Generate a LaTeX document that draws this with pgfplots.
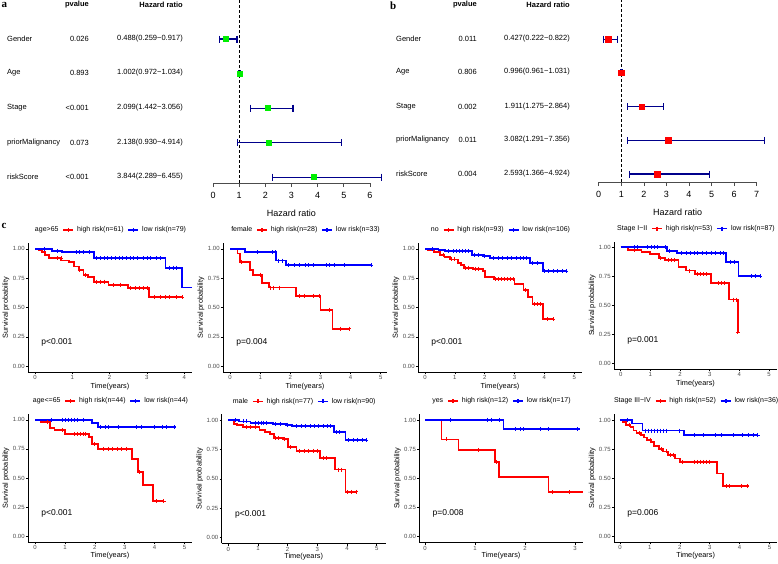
\documentclass[border=0pt]{standalone}
\usepackage{pgfplots}
\pgfplotsset{compat=1.18}
\usepackage{fontspec}
\setmainfont{Liberation Sans}
\newfontfamily\serifbf{Liberation Serif}
\pgfplotsset{
 /pgf/number format/assume math mode=true,
 km/.style={scale only axis, width=164pt, ymin=-0.05, ymax=1.05,
  axis x line*=bottom, axis y line*=left,
  axis line style={-, line width=0.6pt, black},
  tick align=outside, major tick length=2.2pt, tick style={black, line width=0.6pt},
  ytick={0,0.25,0.5,0.75,1},
  yticklabel style={/pgf/number format/.cd, fixed, fixed zerofill, precision=2},
  tick label style={font=\fontsize{6}{7}\selectfont, inner sep=1pt, text=black!70},
  xlabel={Time(years)}, ylabel={Survival probability},
  label style={font=\fontsize{7.3}{8}\selectfont},
  xlabel style={at={(axis description cs:0.5,-0.11)}, anchor=center},
  ylabel style={at={(axis description cs:-0.134,0.5)}, anchor=center},
  clip=false,
  legend style={at={(0.5,1)}, anchor=center, yshift=13pt, draw=none, fill=none,
   legend columns=-1, font=\fontsize{7}{8}\selectfont, inner sep=0pt,
   /tikz/every even column/.append style={column sep=2pt},
   /tikz/every odd column/.append style={column sep=1pt}},
  legend image code/.code={\draw[mark repeat=2,mark phase=2,##1] plot coordinates {(0pt,0pt)(5pt,0pt)(10pt,0pt)};},
 },
 kmb/.style={xlabel style={at={(axis description cs:0.5,-0.105)}}},
 kr/.style={color=red, line width=1.8pt, const plot, mark=none, forget plot},
 kb/.style={color=blue, line width=1.8pt, const plot, mark=none, forget plot},
 cr/.style={color=red, only marks, mark=+, mark size=2pt, line width=0.8pt, forget plot},
 cb/.style={color=blue, only marks, mark=+, mark size=2pt, line width=0.8pt, forget plot},
 fp/.style={scale only axis, axis x line*=bottom, hide y axis, axis line style={-, line width=0.7pt, black!70},
  tick align=outside, major tick length=4pt, tick style={black!70, line width=0.7pt},
  tick label style={font=\fontsize{9}{10}\selectfont}, xticklabel style={yshift=-2pt}, xlabel={Hazard ratio},
  label style={font=\fontsize{9}{10}\selectfont}, xlabel style={yshift=-4pt}, clip=false},
 ci/.style={color={rgb,255:red,0;green,0;blue,139}, line width=1.1pt, mark=|, mark size=3.5pt, forget plot},
}
\newcommand{\leg}[3]{\addlegendimage{empty legend}\addlegendentry{#1}
 \addlegendimage{color=red,line width=1.6pt,mark=+,mark size=2pt}\addlegendentry{high risk(n=#2)}
 \addlegendimage{color=blue,line width=1.6pt,mark=+,mark size=2pt}\addlegendentry{low risk(n=#3)}}
\newcommand{\pv}[1]{\node[anchor=west, font=\fontsize{8.5}{10}\selectfont] at (rel axis cs:0.06,0.227) {#1};}
\begin{document}
\begin{tikzpicture}
\useasboundingbox (0,0) rectangle (778pt,-563pt);
\fill[white] (0,0) rectangle (778pt,-563pt);
% panel letters
\node[anchor=north west, inner sep=0pt, font=\serifbf\bfseries\fontsize{11}{12}\selectfont] at (1.5pt,-2pt) {a};
\node[anchor=north west, inner sep=0pt, font=\serifbf\bfseries\fontsize{11}{12}\selectfont] at (390pt,-2pt) {b};
\node[anchor=north west, inner sep=0pt, font=\serifbf\bfseries\fontsize{11}{12}\selectfont] at (1.5pt,-223pt) {c};
% ---------- forest a text
\begin{scope}[every node/.style={font=\fontsize{7.5}{9}\selectfont, inner sep=0pt}]
\node[anchor=east, font=\bfseries\fontsize{7.5}{9}\selectfont] at (89pt,-5pt) {pvalue};
\node[anchor=east, font=\bfseries\fontsize{7.5}{9}\selectfont] at (183pt,-5pt) {Hazard ratio};
\node[anchor=west] at (7pt,-39pt) {Gender};
\node[anchor=west] at (7pt,-73pt) {Age};
\node[anchor=west] at (7pt,-108pt) {Stage};
\node[anchor=west] at (7pt,-143pt) {priorMalignancy};
\node[anchor=west] at (7pt,-177pt) {riskScore};
\node[anchor=east] at (89pt,-39pt) {0.026};
\node[anchor=east] at (89pt,-73pt) {0.893};
\node[anchor=east] at (89pt,-108pt) {<0.001};
\node[anchor=east] at (89pt,-143pt) {0.073};
\node[anchor=east] at (89pt,-177pt) {<0.001};
\node[anchor=east] at (183pt,-39pt) {0.488(0.259−0.917)};
\node[anchor=east] at (183pt,-73pt) {1.002(0.972−1.034)};
\node[anchor=east] at (183pt,-108pt) {2.099(1.442−3.056)};
\node[anchor=east] at (183pt,-143pt) {2.138(0.930−4.914)};
\node[anchor=east] at (183pt,-177pt) {3.844(2.289−6.455)};
% forest b text
\node[anchor=east, font=\bfseries\fontsize{7.5}{9}\selectfont] at (477pt,-5pt) {pvalue};
\node[anchor=east, font=\bfseries\fontsize{7.5}{9}\selectfont] at (570pt,-5pt) {Hazard ratio};
\node[anchor=west] at (396pt,-39pt) {Gender};
\node[anchor=west] at (396pt,-72pt) {Age};
\node[anchor=west] at (396pt,-107pt) {Stage};
\node[anchor=west] at (396pt,-140pt) {priorMalignancy};
\node[anchor=west] at (396pt,-174pt) {riskScore};
\node[anchor=east] at (477pt,-39pt) {0.011};
\node[anchor=east] at (477pt,-72pt) {0.806};
\node[anchor=east] at (477pt,-107pt) {0.002};
\node[anchor=east] at (477pt,-140pt) {0.011};
\node[anchor=east] at (477pt,-174pt) {0.004};
\node[anchor=east] at (570pt,-39pt) {0.427(0.222−0.822)};
\node[anchor=east] at (570pt,-72pt) {0.996(0.961−1.031)};
\node[anchor=east] at (570pt,-107pt) {1.911(1.275−2.864)};
\node[anchor=east] at (570pt,-140pt) {3.082(1.291−7.356)};
\node[anchor=east] at (570pt,-174pt) {2.593(1.366−4.924)};
\end{scope}
% ---------- forest a
\begin{axis}[fp, at={(213pt,0pt)}, anchor=north west, width=157pt, height=183pt,
 xmin=0, xmax=6, ymin=0.83, ymax=6.13, xtick={0,1,2,3,4,5,6}]
\addplot[black, dashed, line width=0.8pt, dash pattern=on 3pt off 2pt, forget plot] coordinates {(1,0.83)(1,6.13)};
\addplot[ci] coordinates {(0.259,5)(0.917,5)};
\addplot[ci] coordinates {(0.972,4)(1.034,4)};
\addplot[ci] coordinates {(1.442,3)(3.056,3)};
\addplot[ci] coordinates {(0.930,2)(4.914,2)};
\addplot[ci] coordinates {(2.289,1)(6.455,1)};
\addplot[only marks, mark=square*, mark size=2.5pt, color={rgb,255:red,0;green,238;blue,0}]
 coordinates {(0.488,5)(1.002,4)(2.099,3)(2.138,2)(3.844,1)};
\end{axis}
% ---------- forest b
\begin{axis}[fp, at={(598.7pt,0pt)}, anchor=north west, width=158pt, height=182pt,
 xmin=0, xmax=7, ymin=0.763, ymax=6.16, xtick={0,1,2,3,4,5,6,7}]
\addplot[black, dashed, line width=0.8pt, dash pattern=on 3pt off 2pt, forget plot] coordinates {(1,0.763)(1,6.16)};
\addplot[ci] coordinates {(0.222,5)(0.822,5)};
\addplot[ci] coordinates {(0.961,4)(1.031,4)};
\addplot[ci] coordinates {(1.275,3)(2.864,3)};
\addplot[ci] coordinates {(1.291,2)(7.356,2)};
\addplot[ci] coordinates {(1.366,1)(4.924,1)};
\addplot[only marks, mark=square*, mark size=2.8pt, color=red]
 coordinates {(0.427,5)(0.996,4)(1.911,3)(3.082,2)(2.593,1)};
\end{axis}
% ---------- P1 age>65
\begin{axis}[km, at={(28pt,-243pt)}, anchor=north west, height=129pt, xmin=-0.19, xmax=4.21, xtick={0,1,2,3,4}]
\leg{age>65}{61}{79}
\addplot[kr] coordinates {(0,1)(0.09,0.99)(0.18,0.97)(0.27,0.95)(0.38,0.92)(0.7,0.90)(0.9,0.887)(1.05,0.85)(1.17,0.82)(1.3,0.78)(1.43,0.76)(1.57,0.72)(1.97,0.695)(2.5,0.665)(3.06,0.59)(3.98,0.59)};
\addplot[cr] coordinates {(0.6,0.92)(0.7,0.92)(1.2,0.82)(1.35,0.78)(1.65,0.72)(1.75,0.72)(1.85,0.72)(2.1,0.695)(2.3,0.695)(2.55,0.665)(2.7,0.665)(2.8,0.665)(2.9,0.665)(3.0,0.665)(3.2,0.59)(3.35,0.59)(3.5,0.59)(3.6,0.59)(3.8,0.59)(3.95,0.59)};
\addplot[kb] coordinates {(0,1)(0.45,0.98)(0.72,0.97)(1.57,0.92)(3.5,0.84)(3.94,0.67)(4.2,0.67)};
\addplot[cb] coordinates {(0.25,1)(0.6,0.98)(1.1,0.97)(1.2,0.97)(1.3,0.97)(1.45,0.97)(1.65,0.92)(1.75,0.92)(1.85,0.92)(1.95,0.92)(2.05,0.92)(2.15,0.92)(2.25,0.92)(2.35,0.92)(2.45,0.92)(2.55,0.92)(2.65,0.92)(2.75,0.92)(2.9,0.92)(3.0,0.92)(3.1,0.92)(3.25,0.92)(3.35,0.92)(3.6,0.84)(3.7,0.84)(3.8,0.84)};
\pv{p<0.001}
\end{axis}
% ---------- P2 female
\begin{axis}[km, at={(223pt,-243pt)}, anchor=north west, height=129pt, xmin=-0.233, xmax=5.206, xtick={0,1,2,3,4,5}]
\leg{female}{28}{33}
\addplot[kr] coordinates {(0,1)(0.25,0.96)(0.33,0.89)(0.66,0.82)(0.77,0.78)(1.05,0.71)(1.3,0.67)(2.18,0.60)(3.0,0.48)(3.4,0.32)(3.95,0.32)};
\addplot[cr] coordinates {(0.38,0.89)(1.0,0.78)(1.35,0.67)(1.45,0.67)(1.65,0.67)(2.3,0.60)(2.45,0.60)(2.75,0.60)(2.95,0.60)(3.3,0.48)(3.65,0.32)(3.95,0.32)};
\addplot[kb] coordinates {(0,1)(0.5,0.97)(1.53,0.90)(1.85,0.86)(4.68,0.86)};
\addplot[cb] coordinates {(0.9,0.97)(1.4,0.97)(1.5,0.97)(1.6,0.90)(1.75,0.90)(1.95,0.86)(2.15,0.86)(2.3,0.86)(2.5,0.86)(2.6,0.86)(2.75,0.86)(3.2,0.86)(3.3,0.86)(3.45,0.86)(3.8,0.86)(4.68,0.86)};
\pv{p=0.004}
\end{axis}
% ---------- P3 no
\begin{axis}[km, at={(418pt,-243pt)}, anchor=north west, height=129pt, xmin=-0.235, xmax=5.26, xtick={0,1,2,3,4,5}]
\leg{no}{93}{106}
\addplot[kr] coordinates {(0,1)(0.1,0.99)(0.3,0.97)(0.5,0.95)(0.65,0.93)(0.85,0.91)(1.1,0.88)(1.2,0.86)(1.3,0.84)(1.6,0.83)(1.95,0.81)(2.0,0.76)(2.3,0.74)(3.0,0.70)(3.3,0.65)(3.45,0.59)(3.6,0.53)(3.95,0.40)(4.3,0.40)};
\addplot[cr] coordinates {(0.6,0.95)(0.9,0.91)(1.0,0.91)(1.35,0.84)(1.45,0.84)(1.7,0.83)(1.8,0.83)(2.35,0.74)(2.45,0.74)(2.55,0.74)(2.65,0.74)(2.75,0.74)(2.85,0.74)(2.95,0.74)(3.35,0.65)(3.65,0.53)(3.75,0.53)(3.85,0.53)(4.1,0.40)(4.3,0.40)};
\addplot[kb] coordinates {(0,1)(0.45,0.99)(0.67,0.98)(1.57,0.95)(1.95,0.94)(2.18,0.92)(3.52,0.88)(3.95,0.81)(4.73,0.81)};
\addplot[cb] coordinates {(0.25,1.0)(0.8,0.98)(0.95,0.98)(1.05,0.98)(1.15,0.98)(1.25,0.98)(1.35,0.98)(1.45,0.98)(1.65,0.95)(1.8,0.95)(2.0,0.94)(2.3,0.92)(2.45,0.92)(2.6,0.92)(2.75,0.92)(2.9,0.92)(3.05,0.92)(3.2,0.92)(3.3,0.92)(3.4,0.92)(3.6,0.88)(3.75,0.88)(4.0,0.81)(4.15,0.81)(4.3,0.81)(4.45,0.81)(4.6,0.81)(4.73,0.81)};
\pv{p<0.001}
\end{axis}
% ---------- P4 Stage I-II
\begin{axis}[km, at={(614pt,-241.5pt)}, anchor=north west, height=127.7pt, width=163pt, xmin=-0.226, xmax=5.27, xtick={0,1,2,3,4,5}]
\leg{Stage I−II}{53}{87}
\addplot[kr] coordinates {(0,1)(0.25,0.98)(0.7,0.96)(1.0,0.94)(1.3,0.91)(1.5,0.89)(1.95,0.83)(2.2,0.80)(2.5,0.77)(3.05,0.69)(3.65,0.55)(3.95,0.27)};
\addplot[cr] coordinates {(0.45,0.98)(1.35,0.91)(1.6,0.89)(1.7,0.89)(1.8,0.89)(2.3,0.80)(2.6,0.77)(2.7,0.77)(2.8,0.77)(2.9,0.77)(3.3,0.69)(3.4,0.69)(3.5,0.69)(3.8,0.55)(3.9,0.55)(3.95,0.27)};
\addplot[kb] coordinates {(0,1)(1.55,0.97)(1.9,0.95)(3.55,0.875)(3.97,0.75)(4.7,0.75)};
\addplot[cb] coordinates {(0.45,1)(0.55,1)(0.9,1)(1.05,1)(1.15,1)(1.25,1)(1.5,1)(1.65,0.97)(2.05,0.95)(2.2,0.95)(2.35,0.95)(2.5,0.95)(2.6,0.95)(2.75,0.95)(2.9,0.95)(3.05,0.95)(3.2,0.95)(3.35,0.95)(3.45,0.95)(3.7,0.875)(3.85,0.875)(4.4,0.75)(4.55,0.75)(4.7,0.75)};
\pv{p=0.001}
\end{axis}
% ---------- P5 age<=65
\begin{axis}[km, kmb, at={(28pt,-414pt)}, anchor=north west, height=128pt, xmin=-0.237, xmax=5.25, xtick={0,1,2,3,4,5}]
\leg{age<=65}{44}{44}
\addplot[kr] coordinates {(0,1)(0.2,0.98)(0.5,0.93)(0.65,0.91)(1.0,0.88)(1.8,0.85)(1.9,0.79)(2.1,0.75)(3.25,0.66)(3.45,0.55)(3.6,0.44)(3.95,0.30)(4.3,0.30)};
\addplot[cr] coordinates {(0.4,0.98)(0.9,0.91)(1.3,0.88)(1.4,0.88)(1.5,0.88)(1.6,0.88)(1.7,0.88)(2.0,0.79)(2.3,0.75)(2.45,0.75)(2.6,0.75)(2.75,0.75)(2.9,0.75)(3.05,0.75)(3.5,0.55)(4.05,0.30)(4.3,0.30)};
\addplot[kb] coordinates {(0,1)(1.9,0.97)(2.1,0.94)(4.7,0.94)};
\addplot[cb] coordinates {(0.55,1)(0.9,1)(1.0,1)(1.1,1)(1.2,1)(1.3,1)(1.4,1)(1.6,1)(2.2,0.94)(2.35,0.94)(2.45,0.94)(2.8,0.94)(3.4,0.94)(3.55,0.94)(4.0,0.94)(4.25,0.94)(4.4,0.94)(4.65,0.94)};
\pv{p<0.001}
\end{axis}
% ---------- P6 male
\begin{axis}[km, kmb, at={(221.7pt,-414.4pt)}, anchor=north west, height=129pt, xmin=-0.22, xmax=5.3, xtick={0,1,2,3,4,5}]
\leg{male}{77}{90}
\addplot[kr] coordinates {(0,1)(0.2,0.97)(0.3,0.96)(0.5,0.94)(1.05,0.92)(1.25,0.90)(1.4,0.88)(1.55,0.85)(1.85,0.84)(2.0,0.77)(2.3,0.74)(3.1,0.68)(3.6,0.58)(3.95,0.39)(4.3,0.39)};
\addplot[cr] coordinates {(0.6,0.94)(0.75,0.94)(0.9,0.94)(1.6,0.85)(1.7,0.85)(1.9,0.84)(2.1,0.77)(2.4,0.74)(2.55,0.74)(2.7,0.74)(2.85,0.74)(3.0,0.74)(3.2,0.68)(3.3,0.68)(3.7,0.58)(3.8,0.58)(4.0,0.39)(4.15,0.39)(4.3,0.39)};
\addplot[kb] coordinates {(0,1)(0.35,0.99)(0.75,0.98)(1.5,0.97)(1.95,0.96)(2.15,0.95)(3.55,0.90)(3.95,0.83)(4.65,0.83)};
\addplot[cb] coordinates {(0.25,1.0)(0.5,0.99)(0.6,0.99)(0.9,0.98)(1.0,0.98)(1.1,0.98)(1.2,0.98)(1.3,0.98)(1.6,0.97)(1.75,0.97)(2.0,0.96)(2.3,0.95)(2.45,0.95)(2.6,0.95)(2.75,0.95)(2.9,0.95)(3.05,0.95)(3.2,0.95)(3.35,0.95)(3.45,0.95)(3.65,0.90)(3.75,0.90)(4.05,0.83)(4.2,0.83)(4.35,0.83)(4.5,0.83)(4.65,0.83)};
\pv{p<0.001}
\end{axis}
% ---------- P7 yes
\begin{axis}[km, kmb, at={(419.3pt,-414.1pt)}, anchor=north west, height=128.5pt, width=163.4pt, xmin=-0.114, xmax=3.154, xtick={0,1,2,3}]
\leg{yes}{12}{17}
\addplot[kr] coordinates {(0,1)(0.33,0.833)(0.67,0.74)(1.4,0.64)(1.48,0.51)(2.47,0.38)(3.15,0.38)};
\addplot[cr] coordinates {(0.42,0.833)(1.07,0.74)(1.43,0.64)(2.55,0.38)(2.88,0.38)};
\addplot[kb] coordinates {(0,1)(1.57,0.92)(3.1,0.92)};
\addplot[cb] coordinates {(0.5,1)(1.25,1)(1.33,1)(1.48,1)(1.8,0.92)(1.9,0.92)(1.97,0.92)(2.3,0.92)(2.47,0.92)(3.05,0.92)};
\pv{p=0.008}
\end{axis}
% ---------- P8 Stage III-IV
\begin{axis}[km, kmb, at={(614pt,-414.2pt)}, anchor=north west, height=128pt, width=163.3pt, xmin=-0.2, xmax=5.26, xtick={0,1,2,3,4,5}]
\leg{Stage III−IV}{52}{36}
\addplot[kr] coordinates {(0,1)(0.1,0.98)(0.2,0.96)(0.35,0.94)(0.45,0.91)(0.55,0.89)(0.7,0.87)(0.8,0.85)(0.9,0.83)(1.05,0.81)(1.15,0.78)(1.3,0.75)(1.45,0.73)(1.6,0.70)(1.85,0.67)(2.0,0.64)(3.25,0.54)(3.45,0.43)(4.3,0.43)};
\addplot[cr] coordinates {(0.3,0.96)(0.65,0.89)(1.0,0.83)(1.4,0.75)(1.55,0.73)(1.7,0.70)(1.8,0.70)(2.1,0.64)(2.5,0.64)(2.6,0.64)(2.7,0.64)(2.8,0.64)(2.9,0.64)(3.0,0.64)(3.55,0.43)(3.65,0.43)(4.05,0.43)(4.25,0.43)};
\addplot[kb] coordinates {(0,1)(0.4,0.97)(0.75,0.91)(2.15,0.87)(4.6,0.87)};
\addplot[cb] coordinates {(0.25,1)(0.85,0.91)(0.95,0.91)(1.05,0.91)(1.15,0.91)(1.25,0.91)(1.35,0.91)(1.45,0.91)(1.55,0.91)(2.0,0.91)(2.5,0.87)(2.8,0.87)(3.2,0.87)(3.4,0.87)(3.8,0.87)(4.1,0.87)(4.3,0.87)(4.45,0.87)(4.6,0.87)};
\pv{p=0.006}
\end{axis}
\end{tikzpicture}
\end{document}
